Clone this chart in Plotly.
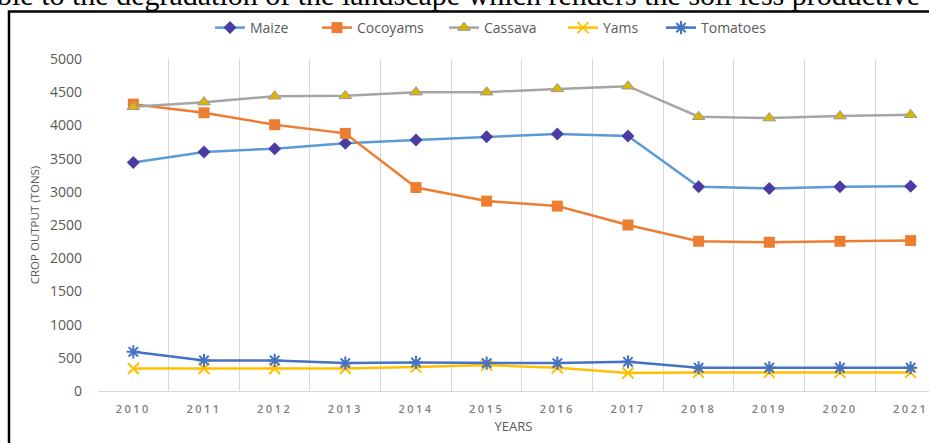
import plotly.graph_objects as go

years = ["2010", "2011", "2012", "2013", "2014", "2015", "2016", "2017", "2018", "2019", "2020", "2021"]
maize = [3440, 3600, 3650, 3730, 3780, 3830, 3870, 3840, 3075, 3050, 3075, 3085]
cocoyams = [4320, 4190, 4010, 3880, 3065, 2860, 2785, 2500, 2255, 2240, 2255, 2265]
cassava = [4280, 4350, 4440, 4445, 4500, 4500, 4550, 4590, 4130, 4110, 4140, 4160]
yams = [340, 340, 340, 340, 360, 390, 350, 270, 280, 280, 280, 280]
tomatoes = [590, 460, 460, 420, 430, 420, 420, 440, 350, 350, 350, 350]

y_ticks = list(range(0, 5001, 500))
top_text = "ble to the degradation of the landscape which renders the soil less productive"

FONT = "Open Sans"
GREY = "#595959"

# plot area in pixels
PL, PR, PT, PB = 98, 929, 59, 391
PW, PH = PR - PL, PB - PT


def px_x(p):
    return (p - PL) / PW


def px_y(p):
    return (PB - p) / PH


fig = go.Figure()
fig.add_trace(go.Scatter(x=years, y=maize, name="Maize", mode="lines+markers", legend="legend",
                         line=dict(color="#5B9BD5", width=2.5),
                         marker=dict(symbol="diamond", size=10, color="#4B3CA3")))
fig.add_trace(go.Scatter(x=years, y=cocoyams, name="Cocoyams", mode="lines+markers", legend="legend2",
                         line=dict(color="#ED7D31", width=2.5),
                         marker=dict(symbol="square", size=11, color="#ED7D31")))
fig.add_trace(go.Scatter(x=years, y=cassava, name="Cassava", mode="lines+markers", legend="legend3",
                         line=dict(color="#A5A5A5", width=2.5),
                         marker=dict(symbol="triangle-up", size=11, color="#DDB500",
                                     line=dict(color="#9A9A9A", width=1))))
fig.add_trace(go.Scatter(x=years, y=yams, name="Yams", mode="lines+markers", legend="legend4",
                         line=dict(color="#FFC000", width=2.5),
                         marker=dict(symbol="x-thin-open", size=11, color="#FFC000",
                                     line=dict(color="#FFC000", width=2))))
fig.add_trace(go.Scatter(x=years, y=tomatoes, name="Tomatoes", mode="lines+markers", legend="legend5",
                         line=dict(color="#4472C4", width=2.5),
                         marker=dict(symbol="asterisk-open", size=11, color="#4472C4",
                                     line=dict(color="#4472C4", width=2))))

text_starts = [250, 357, 484, 603, 701]
legend_keys = ["legend", "legend2", "legend3", "legend4", "legend5"]
legends = {}
for key, ts in zip(legend_keys, text_starts):
    legends[key] = dict(orientation="h", x=px_x(ts - 40), xanchor="left",
                        y=px_y(28), yanchor="middle",
                        font=dict(size=14, color=GREY, family=FONT),
                        bgcolor="rgba(0,0,0,0)", borderwidth=0,
                        itemclick=False, itemdoubleclick=False)

fig.update_layout(
    width=929, height=443,
    margin=dict(l=PL, r=929 - PR, t=PT, b=443 - PB, pad=0, autoexpand=False),
    paper_bgcolor="white", plot_bgcolor="white",
    font=dict(family=FONT, color=GREY),
    showlegend=True,
    xaxis=dict(type="category", range=[-0.5, 11.26], tickson="boundaries",
               showgrid=True, gridcolor="#D9D9D9", gridwidth=1,
               showline=True, linecolor="#D9D9D9", linewidth=1,
               ticks="", ticklabelstandoff=8,
               tickfont=dict(size=11, color="#7F7F7F", family=FONT, weight=600),
               title=dict(text="YEARS", font=dict(size=13, color=GREY), standoff=6),
               zeroline=False),
    yaxis=dict(range=[0, 5000], tickvals=y_ticks, showgrid=False, zeroline=False,
               showline=False, ticks="", ticklabelstandoff=15,
               tickfont=dict(size=14, color=GREY, family=FONT),
               title=dict(text="CROP OUTPUT (TONS)", font=dict(size=11.5, color=GREY), standoff=7)),
    **legends,
)

# chart frame (extends past the cropped right and bottom edges)
fig.add_shape(type="rect", xref="paper", yref="paper",
              x0=px_x(9), x1=1.3, y0=-0.5, y1=px_y(11.5),
              line=dict(color="black", width=2.5), fillcolor="rgba(0,0,0,0)", layer="above")

fig.add_annotation(text=top_text, xref="paper", yref="paper",
                   x=px_x(-5), xanchor="left", y=px_y(-6), yanchor="middle",
                   showarrow=False, font=dict(family="Liberation Serif", size=30, color="black"))

post = """
document.body.style.margin='0';
document.body.style.overflow='hidden';
document.querySelectorAll('.xtick text').forEach(function(t){t.style.letterSpacing='2.5px';});
"""
fig.write_html("out.html", post_script=post, config={"displayModeBar": False})
